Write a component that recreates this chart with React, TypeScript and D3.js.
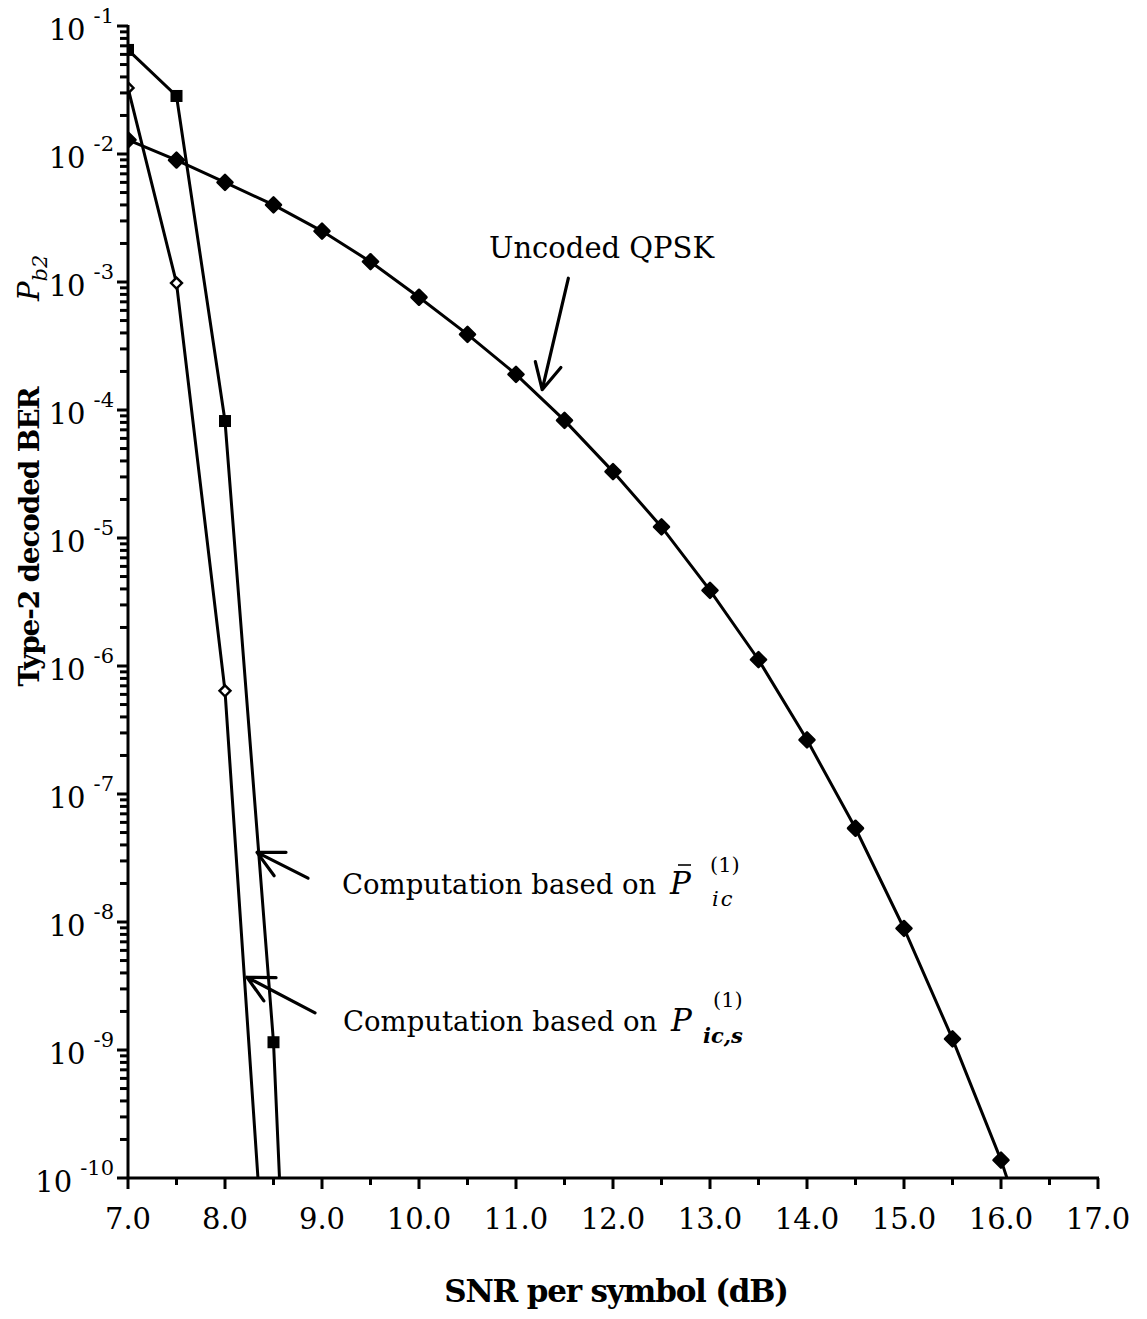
import React from 'react';
import * as d3 from 'd3';

// SNR per symbol (dB) and Type-2 decoded BER
const snrUncoded = [7.0, 7.5, 8.0, 8.5, 9.0, 9.5, 10.0, 10.5, 11.0, 11.5, 12.0, 12.5, 13.0, 13.5, 14.0, 14.5, 15.0, 15.5, 16.0, 16.5];
const berUncoded = [1.29e-2, 8.97e-3, 6.0e-3, 4.0e-3, 2.5e-3, 1.44e-3, 7.6e-4, 3.9e-4, 1.9e-4, 8.3e-5, 3.3e-5, 1.22e-5, 3.9e-6, 1.12e-6, 2.65e-7, 5.4e-8, 8.9e-9, 1.22e-9, 1.38e-10, 1.0e-11];

const snrBarPic = [7.0, 7.5, 8.0, 8.5, 9.0];
const berBarPic = [6.5e-2, 2.84e-2, 8.2e-5, 1.15e-9, 3e-18];

const snrPics = [7.0, 7.5, 8.0, 8.5];
const berPics = [3.28e-2, 9.8e-4, 6.4e-7, 1.6e-12];

const xMajorTicks = [7, 8, 9, 10, 11, 12, 13, 14, 15, 16, 17];
const xTickLabels = ['7.0', '8.0', '9.0', '10.0', '11.0', '12.0', '13.0', '14.0', '15.0', '16.0', '17.0'];
const xMinorTicks = [7.5, 8.5, 9.5, 10.5, 11.5, 12.5, 13.5, 14.5, 15.5, 16.5];
const yExponents = [-1, -2, -3, -4, -5, -6, -7, -8, -9, -10];

// annotation arrows: [tip snr, tip ber, tail snr, tail ber]
const arrowUncoded = [11.27, 1.44e-4, 11.54, 1.07e-3];
const arrowBarPic = [8.33, 3.5e-8, 8.856, 2.2e-8];
const arrowPics = [8.227, 3.7e-9, 8.928, 1.95e-9];

const W = 1147;
const H = 1319;
const margin = { top: 26, right: 49, bottom: 141, left: 128 };
const font = '"DejaVu Serif", serif';

export default function App() {
  const x = d3.scaleLinear().domain([7, 17]).range([margin.left, W - margin.right]);
  const y = d3.scaleLog().domain([1e-10, 1e-1]).range([H - margin.bottom, margin.top]);
  const x0 = x.range()[0];
  const x1 = x.range()[1];
  const yb = y.range()[0];
  const yt = y.range()[1];

  const line = d3.line<[number, number]>()
    .x(d => x(d[0]))
    .y(d => y(d[1]));

  const zip = (a: number[], b: number[]) => a.map((v, i) => [v, b[i]] as [number, number]);
  const uncoded = zip(snrUncoded, berUncoded);
  const barPic = zip(snrBarPic, berBarPic);
  const pics = zip(snrPics, berPics);
  const inRange = (d: [number, number]) => d[1] >= 1e-10 && d[1] <= 1e-1;

  const minorY: number[] = [];
  yExponents.slice(0, -1).forEach(e => {
    for (let k = 2; k <= 9; k++) minorY.push(k * Math.pow(10, e - 1));
  });

  const arrow = (a: number[], key: string) => {
    const tx = x(a[0]), ty = y(a[1]);
    const sx = x(a[2]), sy = y(a[3]);
    const ang = Math.atan2(sy - ty, sx - tx);
    const len = 29;
    const spread = 0.47;
    const b1 = [tx + len * Math.cos(ang - spread), ty + len * Math.sin(ang - spread)];
    const b2 = [tx + len * Math.cos(ang + spread), ty + len * Math.sin(ang + spread)];
    return (
      <path key={key}
        d={`M${sx},${sy}L${tx},${ty}M${b1[0]},${b1[1]}L${tx},${ty}L${b2[0]},${b2[1]}`}
        fill="none" stroke="#000" strokeWidth={3.2} strokeLinecap="round" strokeLinejoin="round" />
    );
  };

  return (
    <svg width={W} height={H} style={{ position: 'absolute', left: 0, top: 0, background: '#fff' }} fontFamily={font}>
      <defs>
        <clipPath id="plot-clip">
          <rect x={x0} y={yt} width={x1 - x0} height={yb - yt} />
        </clipPath>
      </defs>

      {/* series lines */}
      <g clipPath="url(#plot-clip)" fill="none" stroke="#000" strokeWidth={3}>
        <path d={line(uncoded) || ''} />
        <path d={line(barPic) || ''} />
        <path d={line(pics) || ''} />
      </g>

      {/* markers */}
      <g clipPath="url(#plot-clip)">
        {uncoded.filter(inRange).map((d, i) => (
          <path key={'u' + i} transform={`translate(${x(d[0])},${y(d[1])})`}
            d="M0,-7.5L7.5,0L0,7.5L-7.5,0Z" fill="#000" stroke="#000" strokeWidth={2.5} strokeLinejoin="round" />
        ))}
        {barPic.filter(inRange).map((d, i) => (
          <rect key={'s' + i} x={x(d[0]) - 6} y={y(d[1]) - 6} width={12} height={12} fill="#000" />
        ))}
        {pics.filter(inRange).map((d, i) => (
          <path key={'d' + i} transform={`translate(${x(d[0])},${y(d[1])})`}
            d="M0,-5.5L5.5,0L0,5.5L-5.5,0Z" fill="#fff" stroke="#000" strokeWidth={2.4} />
        ))}
      </g>

      {/* x axis */}
      <g stroke="#000" strokeWidth={3}>
        <line x1={x0 - 1} x2={x1 + 1} y1={yb} y2={yb} />
        {xMajorTicks.map(t => <line key={'xM' + t} x1={x(t)} x2={x(t)} y1={yb} y2={yb + 11} />)}
        {xMinorTicks.map(t => <line key={'xm' + t} x1={x(t)} x2={x(t)} y1={yb} y2={yb + 7} />)}
      </g>
      <g fontSize={29} textAnchor="middle">
        {xMajorTicks.map((t, i) => (
          <text key={'xl' + t} x={x(t)} y={yb + 51}>{xTickLabels[i]}</text>
        ))}
      </g>
      <text x={(x0 + x1) / 2 + 3} y={1302} textAnchor="middle" fontSize={31} fontWeight="bold" letterSpacing={-1.2}>
        SNR per symbol  (dB)
      </text>

      {/* y axis */}
      <g stroke="#000" strokeWidth={3}>
        <line x1={x0} x2={x0} y1={yt - 1} y2={yb + 1} />
        {yExponents.map(e => <line key={'yM' + e} x1={x0 - 11} x2={x0} y1={y(Math.pow(10, e))} y2={y(Math.pow(10, e))} />)}
        {minorY.map((v, i) => <line key={'ym' + i} x1={x0 - 8} x2={x0} y1={y(v)} y2={y(v)} />)}
      </g>
      <g fontSize={29} textAnchor="end">
        {yExponents.map(e => (
          <text key={'yl' + e} x={x0 - 14} y={y(Math.pow(10, e)) + 14}>
            10<tspan fontSize={21} dx={8} dy={-17}>{String(e)}</tspan>
          </text>
        ))}
      </g>
      <text transform="translate(39,537) rotate(-90)" textAnchor="middle" fontSize={28} fontWeight="bold" letterSpacing={-1.2}>
        Type-2 decoded BER
      </text>
      <text transform="translate(39,301) rotate(-90)" fontSize={29} fontStyle="italic">
        P<tspan fontSize={21} dy={8}>b2</tspan>
      </text>

      {/* annotations */}
      {arrow(arrowUncoded, 'a1')}
      {arrow(arrowBarPic, 'a2')}
      {arrow(arrowPics, 'a3')}

      <text x={489} y={258} fontSize={29}>Uncoded QPSK</text>

      <text x={342} y={894} fontSize={27.5}>Computation based on</text>
      <text x={670} y={894} fontSize={31} fontStyle="italic">P</text>
      <line x1={678} x2={691} y1={865} y2={865} stroke="#000" strokeWidth={1.6} />
      <text x={710} y={872} fontSize={21}>(1)</text>
      <text x={712} y={906} fontSize={21} fontStyle="italic" letterSpacing={2}>ic</text>

      <text x={343} y={1031} fontSize={27.5}>Computation based on</text>
      <text x={671} y={1031} fontSize={31} fontStyle="italic">P</text>
      <text x={713} y={1007} fontSize={21}>(1)</text>
      <text x={703} y={1043} fontSize={21} fontStyle="italic" fontWeight="bold">ic,s</text>
    </svg>
  );
}
